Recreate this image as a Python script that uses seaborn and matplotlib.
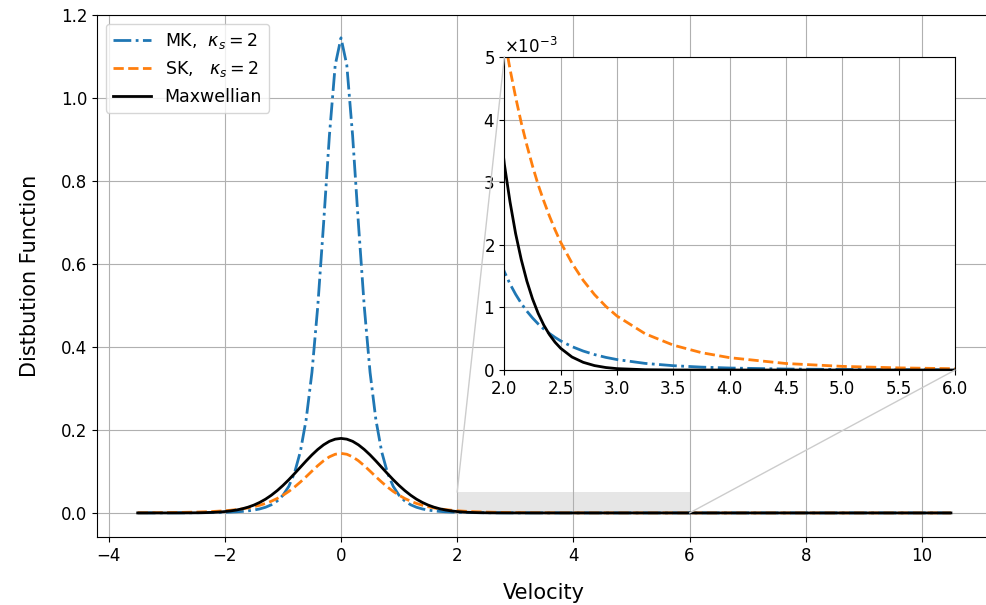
import matplotlib
matplotlib.use("Agg")
import matplotlib.pyplot as plt
from matplotlib.patches import Rectangle, ConnectionPatch
import numpy as np
import seaborn as sns

# Velocity grid (v >= 0); curves are symmetric, negative side mirrored down to -3.5
velocidad_pos = [0, 0.1, 0.2, 0.3, 0.4, 0.5, 0.6, 0.7, 0.8, 0.9, 1.0, 1.1, 1.2, 1.3, 1.4,
                 1.5, 1.6, 1.7, 1.8, 1.9, 2.0, 2.05, 2.1, 2.15, 2.2, 2.25, 2.3, 2.35, 2.4,
                 2.45, 2.5, 2.6, 2.7, 2.8, 2.9, 3.0, 3.25, 3.5, 3.75, 4.0, 4.5, 5.0, 5.5,
                 6.0, 7.0, 8.0, 9.0, 10.5]

mk_pos = [1.145, 1.079, 0.909, 0.697, 0.498, 0.339, 0.225, 0.1475, 0.0966, 0.0637, 0.0424,
          0.02862, 0.0196, 0.01363, 0.00961, 0.00688, 0.00500, 0.00367, 0.00274, 0.00206,
          0.00157, 0.001376, 0.00121, 0.001065, 0.000940, 0.000832, 0.000737, 0.000655,
          0.000584, 0.000521, 0.000465, 0.000374, 0.000303, 0.000247, 0.000202, 0.000167,
          0.0001057, 0.0000691, 0.0000463, 0.0000319, 0.0000160, 0.0000086, 0.0000049,
          0.0000029, 0.0000012, 0.0000005, 0.0000003, 0.0000001]

sk_pos = [0.1435, 0.1414, 0.1352, 0.1257, 0.1139, 0.1008, 0.0873, 0.0744, 0.0624, 0.0517,
          0.0425, 0.0347, 0.0282, 0.02285, 0.01849, 0.01495, 0.01211, 0.00982, 0.00798,
          0.00650, 0.00531, 0.00481, 0.00436, 0.00395, 0.00359, 0.00326, 0.00296, 0.00270,
          0.00246, 0.00224, 0.00204, 0.001708, 0.001432, 0.001205, 0.001018, 0.000862,
          0.000579, 0.000397, 0.000277, 0.000197, 0.000104, 0.0000583, 0.0000342,
          0.0000209, 0.0000087, 0.0000040, 0.0000020, 0.0000008]

maxw_pos = [0.1796, 0.1778, 0.1726, 0.1641, 0.1530, 0.1399, 0.1253, 0.1100, 0.0947, 0.0799,
            0.0661, 0.0536, 0.0426, 0.0331, 0.0253, 0.0189, 0.01388, 0.00998, 0.00703,
            0.00486, 0.00329, 0.00269, 0.00218, 0.001765, 0.00142, 0.001137, 0.000906,
            0.000718, 0.000566, 0.000444, 0.000347, 0.000208, 0.000123, 0.0000708,
            0.0000400, 0.0000221, 0.0000047, 0.0000009, 0.0000001, 0, 0, 0, 0, 0, 0, 0, 0, 0]

v_min = -3.5
etiquetas = [r"MK,  $\kappa_s = 2$", r"SK,   $\kappa_s = 2$", "Maxwellian"]
zoom_x = (2.0, 6.0)
zoom_y = (0.0, 0.005)
caja_alto = 0.05


def espejo(v, f):
    v = np.asarray(v, dtype=float)
    f = np.asarray(f, dtype=float)
    izq = (v > 0) & (v <= -v_min)
    return np.concatenate([-v[izq][::-1], v]), np.concatenate([f[izq][::-1], f])


v, mk = espejo(velocidad_pos, mk_pos)
_, sk = espejo(velocidad_pos, sk_pos)
_, maxw = espejo(velocidad_pos, maxw_pos)

plt.rcParams["font.size"] = 12
fig = plt.figure(figsize=(9.86, 6.05), dpi=100)
ax = fig.add_axes([0.0984, 0.1124, 0.9073, 0.8628])


def dibujar(eje, con_leyenda):
    sns.lineplot(x=v, y=mk, ax=eje, color="C0", linestyle="-.", lw=2,
                 label=etiquetas[0] if con_leyenda else None, sort=False)
    sns.lineplot(x=v, y=sk, ax=eje, color="C1", linestyle="--", lw=2,
                 label=etiquetas[1] if con_leyenda else None, sort=False)
    sns.lineplot(x=v, y=maxw, ax=eje, color="black", linestyle="-", lw=2,
                 label=etiquetas[2] if con_leyenda else None, sort=False)


dibujar(ax, True)
ax.grid(True)
ax.set_xlabel("Velocity", fontsize=15, labelpad=13)
ax.set_ylabel("Distbution Function", fontsize=15, labelpad=15)
ax.set_xticks([-4, -2, 0, 2, 4, 6, 8, 10])
ax.set_yticks([0.0, 0.2, 0.4, 0.6, 0.8, 1.0, 1.2])
ax.set_ylim(-0.058, 1.2)
ax.legend(loc="upper left", fontsize=12.5, handlelength=2.2)

ax.add_patch(Rectangle((zoom_x[0], 0), zoom_x[1] - zoom_x[0], caja_alto,
                       facecolor="0.9", edgecolor="none", zorder=1))

axins = fig.add_axes([0.5115, 0.3884, 0.4571, 0.5174])
dibujar(axins, False)
axins.set_xlim(*zoom_x)
axins.set_ylim(*zoom_y)
axins.set_xticks(np.arange(2.0, 6.01, 0.5))
axins.grid(True)
axins.ticklabel_format(axis="y", style="sci", scilimits=(-3, -3), useMathText=True)

for pa, pb in [((zoom_x[0], caja_alto), (zoom_x[0], zoom_y[1])),
               ((zoom_x[1], 0), (zoom_x[1], zoom_y[0]))]:
    con = ConnectionPatch(xyA=pa, coordsA=ax.transData, xyB=pb, coordsB=axins.transData,
                          color="0.8", lw=1, zorder=2)
    fig.add_artist(con)

fig.savefig("out.png", dpi=100)
